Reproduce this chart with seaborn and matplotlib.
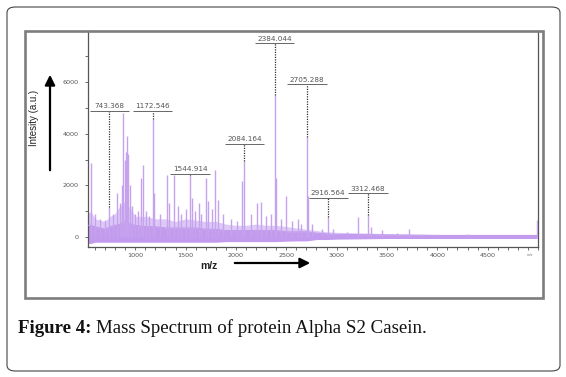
import numpy as np
import pandas as pd
import matplotlib
matplotlib.use("Agg")
import matplotlib.pyplot as plt
from matplotlib.patches import Rectangle, FancyBboxPatch
import seaborn as sns

# ------------------------------------------------------------------
# data
# ------------------------------------------------------------------
# baseline noise band: m/z, bottom of band, dense core top, spiky top
env_mz = [531, 560, 600, 650, 700, 750, 800, 850, 900, 950, 1000, 1100, 1200,
          1300, 1400, 1500, 1600, 1700, 1800, 1900, 2000, 2100, 2200, 2300,
          2400, 2500, 2600, 2700, 2800, 2900, 3000, 3500, 4000, 4500, 4990]
env_low = [-250, -250, -200, -200, -200, -200, -200, -200, -200, -200, -200,
           -200, -200, -200, -200, -200, -200, -200, -200, -180, -180, -180,
           -180, -180, -180, -160, -150, -150, -100, -100, -80, -60, -60, -60, -60]
env_core = [450, 450, 400, 350, 300, 400, 450, 500, 600, 500, 450, 400, 400,
            350, 350, 350, 350, 300, 300, 250, 250, 250, 250, 250, 250, 200,
            200, 200, 150, 120, 100, 80, 60, 60, 60]
env_spike = [900, 1000, 700, 650, 600, 800, 900, 1200, 1400, 1100, 800, 800,
             700, 700, 600, 700, 650, 600, 600, 500, 450, 450, 500, 450, 450,
             400, 350, 300, 250, 200, 180, 130, 100, 100, 100]

# individual peaks: m/z and intensity (a.u.)
peak_mz = [561, 600, 650, 700, 743, 780, 822, 850, 870, 882, 895, 905, 917,
           932, 945, 967, 1000, 1030, 1058, 1081, 1110, 1140, 1172, 1190, 1250,
           1313, 1340, 1388, 1420, 1450, 1500, 1545, 1560, 1590, 1630, 1650,
           1703, 1725, 1760, 1793, 1825, 1870, 1950, 2010, 2058, 2084, 2150,
           2207, 2249, 2300, 2350, 2384, 2400, 2450, 2498, 2560, 2620, 2650,
           2705, 2715, 2760, 2850, 2916, 2960, 3100, 3216, 3312, 3340, 3450,
           3600, 3717, 4300, 4990]
peak_int = [2850, 900, 700, 650, 1150, 900, 1700, 1300, 2000, 4800, 3000, 3300,
            3900, 3200, 2000, 1200, 900, 1000, 2300, 2800, 1000, 800, 4570, 1700,
            900, 2400, 1300, 2400, 1200, 900, 1100, 2400, 1500, 1000, 1300, 900,
            2300, 1400, 1100, 2600, 1450, 900, 700, 600, 2150, 2930, 900, 1320,
            1350, 800, 900, 5500, 2300, 700, 1570, 600, 700, 500, 3870, 1600,
            500, 300, 780, 300, 200, 790, 850, 400, 250, 150, 300, 120, 660]

# annotated peaks
label_text = ['743.368', '1172.546', '1544.914', '2084.164',
              '2384.044', '2705.288', '2916.564', '3312.468']
label_mz = [743.368, 1172.546, 1544.914, 2084.164,
            2384.044, 2705.288, 2916.564, 3312.468]
label_level = [4880, 4880, 2440, 3600, 7510, 5920, 1510, 1700]
label_peak = [1150, 4570, 2400, 2930, 5500, 3870, 780, 850]

x_ticks = [1000, 1500, 2000, 2500, 3000, 3500, 4000, 4500]
y_ticks = [0, 2000, 4000, 6000]

env = pd.DataFrame({'mz': env_mz, 'low': env_low, 'core': env_core, 'spike': env_spike})

# ------------------------------------------------------------------
# figure
# ------------------------------------------------------------------
sns.set_theme(style="ticks")
plt.rcParams['font.family'] = ['DejaVu Sans']

W, H = 566, 377
fig = plt.figure(figsize=(W / 100, H / 100), dpi=100)
fig.patch.set_facecolor('white')


def fx(px):
    return px / W


def fy(py):
    return 1 - py / H


ax = fig.add_axes([fx(88), fy(247), fx(538) - fx(88), fy(31) - fy(247)])
ax.set_facecolor('white')

purple = '#c6a2ee'
ax.fill_between(env['mz'], env['low'], env['spike'], color='#ddc9f6', lw=0, zorder=1)
ax.fill_between(env['mz'], env['low'], env['core'], color='#c39bee', lw=0, zorder=2)
sns.lineplot(data=env, x='mz', y='core', ax=ax, color='#bd95ea', lw=0.6, zorder=3)
ax.vlines(peak_mz, 0, peak_int, color=purple, lw=1.0, zorder=3)

# annotations: dotted leader, underline, label
for txt, mz, lvl, top in zip(label_text, label_mz, label_level, label_peak):
    ax.vlines(mz, top, lvl, color='#333333', lw=0.9, linestyles=(0, (1, 1)), zorder=4)
    ax.hlines(lvl, mz - 195, mz + 195, color='#666666', lw=0.7, zorder=4)
    ax.text(mz, lvl + 60, txt, ha='center', va='bottom', fontsize=5.2,
            color='#555555', zorder=5)

ax.set_xlim(531, 5000)
ax.set_ylim(-390, 7980)
ax.set_xticks(x_ticks)
ax.set_yticks(y_ticks)
ax.set_xticks(np.arange(600, 5001, 100), minor=True)
ax.set_yticks([1000, 3000, 5000, 7000], minor=True)
ax.tick_params(which='both', direction='out', length=2.5, width=0.6,
               color='#555555', labelsize=4.6, labelcolor='#555555')
ax.tick_params(axis='y', pad=4)
ax.tick_params(axis='x', pad=2)
ax.set_xlabel('')
ax.set_ylabel('')
for s in ['left', 'bottom', 'right']:
    ax.spines[s].set_color('#555555')
    ax.spines[s].set_linewidth(0.9)
ax.spines['top'].set_visible(False)
ax.grid(False)

# axis titles and arrows drawn in figure space
fig.text(fx(34), fy(118), 'Intesity (a.u.)', rotation=90, ha='center', va='center',
         fontsize=7, family='Liberation Sans', color='#222222')
fig.text(fx(209), fy(266), 'm/z', ha='center', va='center', fontsize=7.5,
         family='Liberation Sans', weight='bold', color='#222222')
fig.text(fx(530), fy(255), 'm/z', ha='center', va='center', fontsize=2.5, color='#777777')
arrow = dict(arrowstyle='-|>,head_length=0.5,head_width=0.25', color='black', lw=1.6)
ax.annotate('', xy=(fx(50), fy(72)), xytext=(fx(50), fy(173)),
            xycoords='figure fraction', textcoords='figure fraction', arrowprops=arrow)
ax.annotate('', xy=(fx(313), fy(263)), xytext=(fx(232), fy(263)),
            xycoords='figure fraction', textcoords='figure fraction', arrowprops=arrow)

# grey frame around the chart and outer rounded box
fig.patches.append(Rectangle((fx(25), fy(298)), fx(543) - fx(25), fy(31) - fy(298),
                             transform=fig.transFigure, fill=False,
                             edgecolor='#7d7d7d', lw=1.9, zorder=10))
fig.patches.append(FancyBboxPatch((fx(7), fy(371)), fx(560) - fx(7), fy(7) - fy(371),
                                  boxstyle='round,pad=0,rounding_size=0.015',
                                  transform=fig.transFigure, fill=False,
                                  edgecolor='#444444', lw=0.8, zorder=10))

# caption
cap1 = fig.text(fx(18), fy(333), 'Figure 4: ', fontsize=13.6, weight='bold',
                family='Liberation Serif', color='#111111', va='baseline')
ax.annotate('Mass Spectrum of protein Alpha S2 Casein.', xy=(1, 0), xycoords=cap1,
            va='bottom', ha='left', fontsize=13.6, family='Liberation Serif',
            color='#111111')

fig.savefig('out.png', dpi=100)
